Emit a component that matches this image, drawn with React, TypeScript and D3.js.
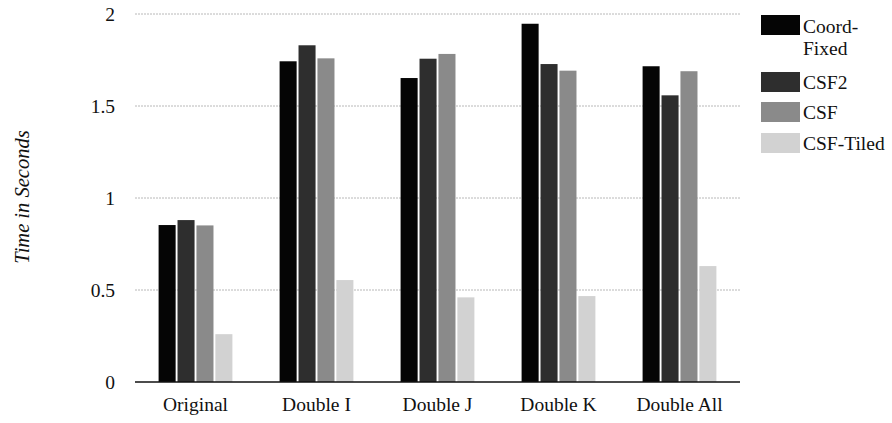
import React from "react";
import * as d3 from "d3";

const categories = ["Original", "Double I", "Double J", "Double K", "Double All"];
const seriesNames = ["Coord-Fixed", "CSF2", "CSF", "CSF-Tiled"];
const coordFixed = [0.853, 1.743, 1.652, 1.947, 1.716];
const csf2 = [0.88, 1.83, 1.757, 1.728, 1.558];
const csf = [0.851, 1.759, 1.783, 1.692, 1.689];
const csfTiled = [0.26, 0.554, 0.46, 0.467, 0.63];
const yTicks = [0, 0.5, 1, 1.5, 2];
const colors = ["#050505", "#2e2e2e", "#8a8a8a", "#d2d2d2"];

const W = 892;
const H = 423;
const FONT = "'Liberation Serif', 'DejaVu Serif', serif";

export default function App() {
  const series = [coordFixed, csf2, csf, csfTiled];
  const x0 = d3.scaleBand<string>().domain(categories).range([135, 740]).paddingInner(0.39).paddingOuter(0.195);
  const x1 = d3.scaleBand<number>().domain([0, 1, 2, 3]).range([0, x0.bandwidth()]).paddingInner(0.1);
  const y = d3.scaleLinear().domain([0, 2]).range([382, 14]);

  const legendRows = [
    { lines: ["Coord-", "Fixed"], y: 15, base: 33 },
    { lines: ["CSF2"], y: 72, base: 89 },
    { lines: ["CSF"], y: 102, base: 119 },
    { lines: ["CSF-Tiled"], y: 133, base: 150 },
  ];

  return (
    <svg width={W} height={H} style={{ position: "absolute", left: 0, top: 0, background: "#fff" }}>
      {yTicks.filter((t) => t > 0).map((t) => (
        <line key={t} x1={135} x2={740} y1={y(t)} y2={y(t)} stroke="#b8b8b8" strokeWidth={1} strokeDasharray="2,1" />
      ))}
      {yTicks.map((t) => (
        <text key={"t" + t} x={115} y={y(t)} dy="0.35em" textAnchor="end" fontFamily={FONT} fontSize={19.5} fill="#111">
          {String(t)}
        </text>
      ))}
      <text
        transform={`translate(29,197) rotate(-90)`}
        textAnchor="middle"
        fontFamily={FONT}
        fontStyle="italic"
        fontSize={20.5}
        fill="#111"
      >
        Time in Seconds
      </text>
      {categories.map((c, ci) => (
        <g key={c} transform={`translate(${x0(c)},0)`}>
          {series.map((s, si) => (
            <rect
              key={si}
              x={x1(si)}
              y={y(s[ci])}
              width={x1.bandwidth()}
              height={y(0) - y(s[ci])}
              fill={colors[si]}
            />
          ))}
          <text
            x={x0.bandwidth() / 2}
            y={411}
            textAnchor="middle"
            fontFamily={FONT}
            fontSize={19.5}
            fill="#111"
          >
            {c}
          </text>
        </g>
      ))}
      <line x1={135} x2={740} y1={y(0)} y2={y(0)} stroke="#111" strokeWidth={1.5} />
      {legendRows.map((r, i) => (
        <g key={seriesNames[i]}>
          <rect x={761} y={r.y} width={39} height={20} fill={colors[i]} />
          {r.lines.map((ln, li) => (
            <text key={li} x={803} y={r.base + li * 22} fontFamily={FONT} fontSize={19.5} fill="#111">
              {ln}
            </text>
          ))}
        </g>
      ))}
    </svg>
  );
}
